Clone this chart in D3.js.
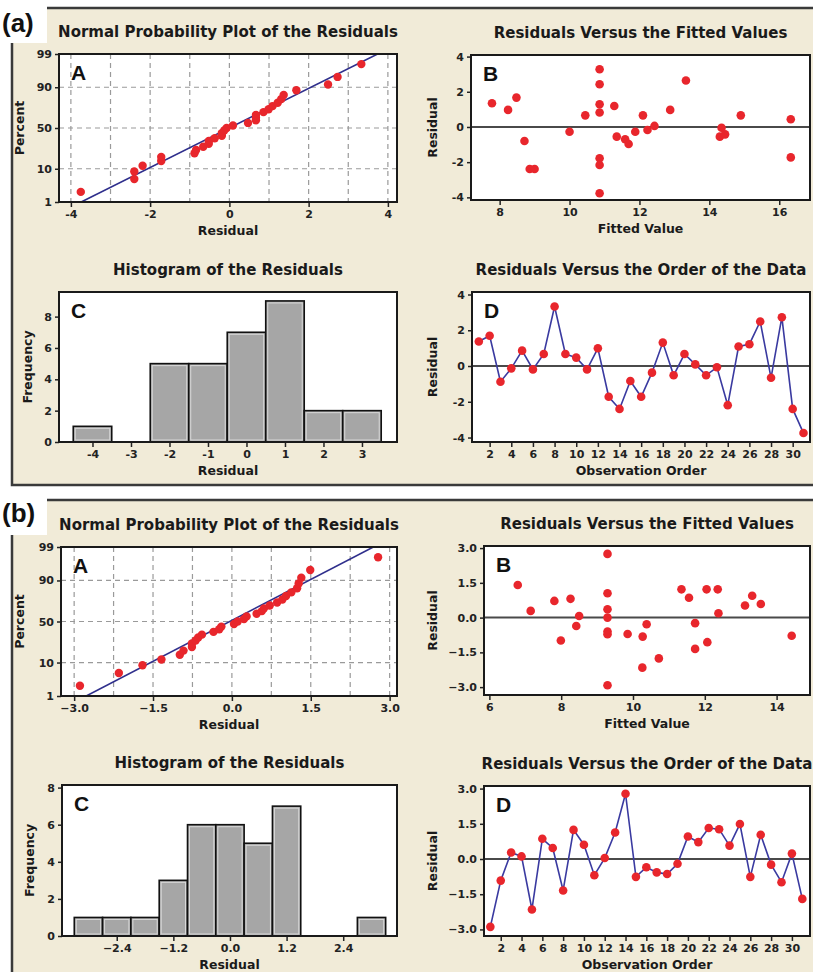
<!DOCTYPE html>
<html>
<head>
<meta charset="utf-8">
<script src="https://cdn.jsdelivr.net/npm/d3@7"></script>
<style>
  body { margin: 0; background: #fff; }
  svg text { font-family: "DejaVu Sans", Verdana, sans-serif; }
</style>
</head>
<body>
<div id="chart"></div>
<script>
const residualsA = [1.37, 1.69, -0.88, -0.13, 0.86, -0.19, 0.67, 3.33, 0.67, 0.47, -0.19, 0.99, -1.72, -2.40, -0.84, -1.72,
  -0.37, 1.31, -0.52, 0.67, 0.09, -0.52, -0.07, -2.19, 1.09, 1.22, 2.49, -0.66, 2.73, -2.40, -3.75];
// residuals vs fitted values (plot B)
const fittedA = [7.78, 8.24, 8.48, 8.71, 8.86, 9.00, 10.0, 10.45, 10.86, 10.86, 10.86, 10.86, 10.86, 10.86, 10.86, 11.28,
  11.35, 11.59, 11.69, 11.88, 12.10, 12.23, 12.43, 12.88, 13.33, 14.35, 14.30, 14.45, 14.90, 16.33, 16.33];
const fittedResidA = [1.35, 0.97, 1.67, -0.80, -2.39, -2.39, -0.27, 0.66, 3.28, 2.43, 1.29, 0.82, -1.78, -2.16, -3.77, 1.19,
  -0.55, -0.70, -0.97, -0.27, 0.66, -0.17, 0.06, 0.97, 2.64, -0.04, -0.55, -0.42, 0.66, 0.44, -1.73];
// histogram (plot C)
const histMidsA = [-4, -3, -2, -1, 0, 1, 2, 3];
const histCountsA = [1, 0, 5, 5, 7, 9, 2, 2];
const binWidthA = 1;
// fitted normal line: residual at 1% and at 99%
const fitLineA = [-3.74, 3.74];

// ---- (b) model
const residualsB = [-2.89, -0.92, 0.28, 0.11, -2.15, 0.86, 0.47, -1.34, 1.24, 0.61, -0.69, 0.04, 1.13, 2.78, -0.76, -0.35,
  -0.57, -0.64, -0.20, 0.96, 0.72, 1.32, 1.27, 0.57, 1.49, -0.76, 1.03, -0.24, -0.99, 0.23, -1.70];
const fittedB = [6.79, 7.15, 7.81, 7.99, 8.26, 8.42, 8.50, 9.29, 9.29, 9.29, 9.29, 9.29, 9.29, 9.29, 9.85, 10.27,
  10.26, 10.38, 10.72, 11.35, 11.56, 11.73, 11.73, 12.05, 12.07, 12.36, 12.38, 13.12, 13.32, 13.56, 14.42];
const fittedResidB = [1.41, 0.29, 0.72, -0.99, 0.81, -0.36, 0.07, 2.75, 1.05, 0.36, 0.0, -0.60, -0.72, -2.92, -0.71, -0.82,
  -2.16, -0.29, -1.76, 1.22, 0.86, -0.24, -1.35, 1.22, -1.06, 1.22, 0.19, 0.52, 0.94, 0.59, -0.78];
const histMidsB = [-3.0, -2.4, -1.8, -1.2, -0.6, 0.0, 0.6, 1.2, 1.8, 2.4, 3.0];
const histCountsB = [1, 1, 1, 3, 6, 6, 5, 7, 0, 0, 1];
const binWidthB = 0.6;
const fitLineB = [-2.77, 2.69];

// tick labels
const pctTicks = [1, 10, 50, 90, 99];
const npTicksA = [-4, -2, 0, 2, 4];
const npGridA = [-4, -3, -2, -1, 0, 1, 2, 3, 4];
const npTicksB = [-3.0, -1.5, 0.0, 1.5, 3.0];
const npGridB = [-3.0, -2.25, -1.5, -0.75, 0.0, 0.75, 1.5, 2.25, 3.0];
const residTicksA = [-4, -2, 0, 2, 4];
const residTicksB = [-3.0, -1.5, 0.0, 1.5, 3.0];
const fitTicksA = [8, 10, 12, 14, 16];
const fitTicksB = [6, 8, 10, 12, 14];
const histTicksA = [-4, -3, -2, -1, 0, 1, 2, 3];
const histTicksB = [-2.4, -1.2, 0.0, 1.2, 2.4];
const freqTicks = [0, 2, 4, 6, 8];
const orderTicks = [2, 4, 6, 8, 10, 12, 14, 16, 18, 20, 22, 24, 26, 28, 30];

const BEIGE = "#f1ebd8";
const RED = "#e8262c";
const NAVY = "#2f2f8c";

const svg = d3.select("#chart").append("svg")
  .attr("width", 813).attr("height", 972);
const defs = svg.append("defs");

// inverse normal cdf (Abramowitz & Stegun 26.2.23) for the probability axis
function probit(p) {
  const q = p < 0.5 ? p : 1 - p;
  const t = Math.sqrt(-2 * Math.log(q));
  const z = t - (2.515517 + 0.802853 * t + 0.010328 * t * t) /
    (1 + 1.432788 * t + 0.189269 * t * t + 0.001308 * t * t * t);
  return p < 0.5 ? -z : z;
}

// section backgrounds
function section(y0, h, label, lblBaseline) {
  svg.append("rect")
    .attr("x", 12).attr("y", y0).attr("width", 820).attr("height", h)
    .attr("fill", BEIGE).attr("stroke", "#3a3a3a").attr("stroke-width", 2.5);
  svg.append("rect")
    .attr("x", 0).attr("y", y0 - 10).attr("width", 47).attr("height", 45)
    .attr("fill", "#fff");
  svg.append("text")
    .attr("x", 2).attr("y", lblBaseline)
    .style("font-family", "'Liberation Sans', Arial, sans-serif")
    .style("font-weight", "bold").style("font-size", "26px")
    .attr("fill", "#111").text(label);
}
section(8, 477, "(a)", 32);
section(500, 480, "(b)", 522);

let clipId = 0;
function panel(f, xDom, yDom) {
  const x = d3.scaleLinear().domain(xDom).range([f.x0, f.x1]);
  const y = d3.scaleLinear().domain(yDom).range([f.y1, f.y0]);
  const g = svg.append("g");
  g.append("rect")
    .attr("x", f.x0).attr("y", f.y0)
    .attr("width", f.x1 - f.x0).attr("height", f.y1 - f.y0)
    .attr("fill", "#fff");
  const id = "clip" + (clipId++);
  defs.append("clipPath").attr("id", id).append("rect")
    .attr("x", f.x0).attr("y", f.y0)
    .attr("width", f.x1 - f.x0).attr("height", f.y1 - f.y0);
  const plot = g.append("g").attr("clip-path", "url(#" + id + ")");
  return { f, x, y, g, plot };
}

function finish(p, o) {
  const f = p.f;
  // axes
  const xa = p.g.append("g")
    .attr("transform", "translate(0," + f.y1 + ")")
    .call(d3.axisBottom(p.x).tickValues(o.xTicks).tickSize(5).tickSizeOuter(0)
      .tickPadding(3).tickFormat(o.xFmt || (d => d)));
  const ya = p.g.append("g")
    .attr("transform", "translate(" + f.x0 + ",0)")
    .call(d3.axisLeft(p.y).tickValues(o.yTicks).tickSize(4).tickSizeOuter(0)
      .tickPadding(3).tickFormat(o.yFmt || (d => d)));
  [xa, ya].forEach(a => {
    a.select(".domain").remove();
    a.selectAll(".tick line").attr("stroke", "#222").attr("stroke-width", 1.5);
    a.selectAll(".tick text")
      .style("font-size", "11px").style("font-weight", "bold").attr("fill", "#222");
  });
  // frame
  p.g.append("rect")
    .attr("x", f.x0).attr("y", f.y0)
    .attr("width", f.x1 - f.x0).attr("height", f.y1 - f.y0)
    .attr("fill", "none").attr("stroke", "#1a1a1a").attr("stroke-width", 2);
  // panel letter
  p.g.append("text")
    .attr("x", f.x0 + 12).attr("y", f.y0 + 26)
    .style("font-family", "'Liberation Sans', Arial, sans-serif")
    .style("font-weight", "bold").style("font-size", "21px")
    .attr("fill", "#111").text(o.letter);
  // title
  p.g.append("text")
    .attr("x", (f.x0 + f.x1) / 2).attr("y", f.y0 - 17)
    .attr("text-anchor", "middle")
    .style("font-size", "15px").style("font-weight", "bold")
    .attr("fill", "#1a1a1a").text(o.title);
  // axis titles
  p.g.append("text")
    .attr("x", (f.x0 + f.x1) / 2).attr("y", f.y1 + 29).attr("dy", "0.35em")
    .attr("text-anchor", "middle")
    .style("font-size", "12.5px").style("font-weight", "bold")
    .attr("fill", "#1a1a1a").text(o.xLabel);
  p.g.append("text")
    .attr("transform", "translate(" + o.yLabelX + "," + (f.y0 + f.y1) / 2 + ") rotate(-90)")
    .attr("dy", "0.35em")
    .attr("text-anchor", "middle")
    .style("font-size", "12.5px").style("font-weight", "bold")
    .attr("fill", "#1a1a1a").text(o.yLabel);
}

// normal probability plot
function normalPlot(f, xDom, resid, gridX, xTicks, fitLine, xFmt, yLabelX) {
  const p = panel(f, xDom, [probit(0.01), probit(0.99)]);
  p.plot.selectAll(".gx").data(gridX).enter().append("line")
    .attr("x1", d => p.x(d)).attr("x2", d => p.x(d))
    .attr("y1", f.y0).attr("y2", f.y1)
    .attr("stroke", "#9a9a9a").attr("stroke-width", 1.2).attr("stroke-dasharray", "5,4");
  p.plot.selectAll(".gy").data([10, 50, 90]).enter().append("line")
    .attr("x1", f.x0).attr("x2", f.x1)
    .attr("y1", d => p.y(probit(d / 100))).attr("y2", d => p.y(probit(d / 100)))
    .attr("stroke", "#9a9a9a").attr("stroke-width", 1.2).attr("stroke-dasharray", "5,4");
  p.plot.append("line")
    .attr("x1", p.x(fitLine[0])).attr("y1", p.y(probit(0.01)))
    .attr("x2", p.x(fitLine[1])).attr("y2", p.y(probit(0.99)))
    .attr("stroke", NAVY).attr("stroke-width", 1.6);
  const sorted = resid.slice().sort(d3.ascending);
  const n = sorted.length;
  p.plot.selectAll(".pt").data(sorted).enter().append("circle")
    .attr("cx", d => p.x(d))
    .attr("cy", (d, i) => p.y(probit((i + 1 - 0.3) / (n + 0.4))))
    .attr("r", 4.2).attr("fill", RED);
  finish(p, {
    xTicks: xTicks, xFmt: xFmt,
    yTicks: pctTicks.map(v => probit(v / 100)),
    yFmt: (d, i) => pctTicks[i],
    letter: "A", title: "Normal Probability Plot of the Residuals",
    xLabel: "Residual", yLabel: "Percent", yLabelX: yLabelX
  });
}

function fittedPlot(f, xDom, yDom, fx, fy, xTicks, yTicks, yFmt, yLabelX) {
  const p = panel(f, xDom, yDom);
  p.plot.append("line")
    .attr("x1", f.x0).attr("x2", f.x1).attr("y1", p.y(0)).attr("y2", p.y(0))
    .attr("stroke", "#4a4a4a").attr("stroke-width", 2);
  p.plot.selectAll(".pt").data(fx).enter().append("circle")
    .attr("cx", d => p.x(d)).attr("cy", (d, i) => p.y(fy[i]))
    .attr("r", 4.3).attr("fill", RED);
  finish(p, {
    xTicks: xTicks, yTicks: yTicks, yFmt: yFmt,
    letter: "B", title: "Residuals Versus the Fitted Values",
    xLabel: "Fitted Value", yLabel: "Residual", yLabelX: yLabelX
  });
}

function histPlot(f, xDom, yDom, mids, counts, bw, xTicks, xFmt, yLabelX) {
  const p = panel(f, xDom, yDom);
  const bars = p.plot.selectAll(".bar").data(mids).enter().append("g")
    .filter((d, i) => counts[i] > 0);
  bars.append("rect")
    .attr("x", d => p.x(d - bw / 2)).attr("width", d => p.x(d + bw / 2) - p.x(d - bw / 2))
    .attr("y", d => p.y(counts[mids.indexOf(d)]))
    .attr("height", d => p.y(0) - p.y(counts[mids.indexOf(d)]))
    .attr("fill", "#a6a6a6").attr("stroke", "#111").attr("stroke-width", 1.6);
  bars.append("rect")
    .attr("x", d => p.x(d - bw / 2) + 2).attr("width", d => p.x(d + bw / 2) - p.x(d - bw / 2) - 4)
    .attr("y", d => p.y(counts[mids.indexOf(d)]) + 2)
    .attr("height", d => Math.max(0, p.y(0) - p.y(counts[mids.indexOf(d)]) - 4))
    .attr("fill", "none").attr("stroke", "#d8d8d8").attr("stroke-width", 1);
  finish(p, {
    xTicks: xTicks, xFmt: xFmt, yTicks: freqTicks,
    letter: "C", title: "Histogram of the Residuals",
    xLabel: "Residual", yLabel: "Frequency", yLabelX: yLabelX
  });
}

function orderPlot(f, xDom, yDom, resid, yTicks, yFmt, yLabelX) {
  const p = panel(f, xDom, yDom);
  p.plot.append("line")
    .attr("x1", f.x0).attr("x2", f.x1).attr("y1", p.y(0)).attr("y2", p.y(0))
    .attr("stroke", "#4a4a4a").attr("stroke-width", 2);
  const line = d3.line().x((d, i) => p.x(i + 1)).y(d => p.y(d));
  p.plot.append("path").datum(resid)
    .attr("d", line).attr("fill", "none")
    .attr("stroke", "#3a3aa0").attr("stroke-width", 1.6);
  p.plot.selectAll(".pt").data(resid).enter().append("circle")
    .attr("cx", (d, i) => p.x(i + 1)).attr("cy", d => p.y(d))
    .attr("r", 4.3).attr("fill", RED);
  finish(p, {
    xTicks: orderTicks, yTicks: yTicks, yFmt: yFmt,
    letter: "D", title: "Residuals Versus the Order of the Data",
    xLabel: "Observation Order", yLabel: "Residual", yLabelX: yLabelX
  });
}

const f1 = d3.format(".1f");

// (a)
normalPlot({ x0: 59, x1: 397, y0: 54, y1: 202 }, [-4.3, 4.23], residualsA, npGridA, npTicksA, fitLineA, null, 20);
fittedPlot({ x0: 471, x1: 810, y0: 55, y1: 200 }, [7.18, 16.88], [-4.15, 4.09],
  fittedA, fittedResidA, fitTicksA, residTicksA, null, 433);
histPlot({ x0: 59, x1: 397, y0: 292, y1: 442 }, [-4.87, 3.91], [0, 9.57],
  histMidsA, histCountsA, binWidthA, histTicksA, null, 28);
orderPlot({ x0: 472, x1: 810, y0: 292, y1: 442 }, [0.37, 31.6], [-4.25, 4.14],
  residualsA, residTicksA, null, 433);

// (b)
normalPlot({ x0: 61, x1: 397, y0: 547, y1: 696 }, [-3.25, 3.14], residualsB, npGridB, npTicksB, fitLineB, f1, 20);
fittedPlot({ x0: 484, x1: 810, y0: 546, y1: 695 }, [5.85, 14.93], [-3.34, 3.09],
  fittedB, fittedResidB, fitTicksB, residTicksB, f1, 433);
histPlot({ x0: 62, x1: 397, y0: 785, y1: 936 }, [-3.56, 3.54], [0, 8.14],
  histMidsB, histCountsB, binWidthB, histTicksB, f1, 30);
orderPlot({ x0: 484, x1: 810, y0: 786, y1: 936 }, [0.39, 31.74], [-3.28, 3.11],
  residualsB, residTicksB, f1, 433);
</script>
</body>
</html>
